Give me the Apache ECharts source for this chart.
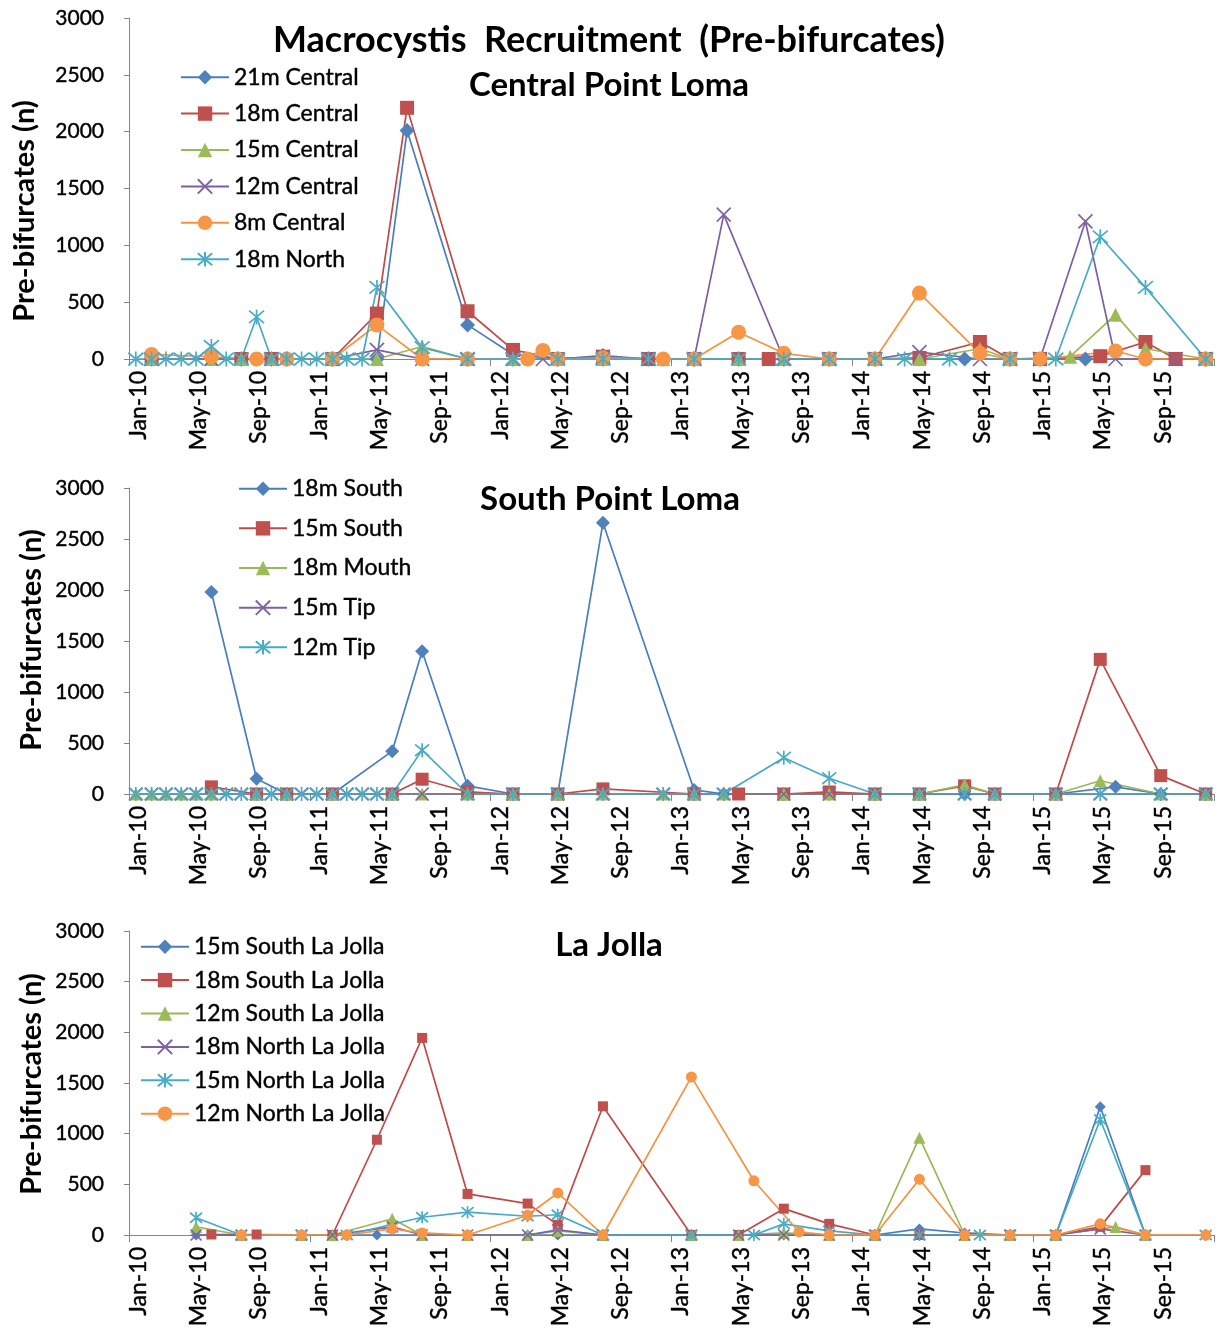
<!DOCTYPE html>
<html><head><meta charset="utf-8">
<script src="https://cdn.jsdelivr.net/npm/echarts@6/dist/echarts.min.js"></script>
<style>html,body{margin:0;padding:0;background:#fff}#c{width:1225px;height:1332px}</style>
</head><body><div id="c"></div>
<script>
// ---------- DATA ----------
const xTickMonths = ['Jan','May','Sep'];
const yTicks = [0,500,1000,1500,2000,2500,3000];

// Panel 1: Central Point Loma
const p1_21mCentral = [['2010-02-15',0],['2010-08-15',0],['2010-10-15',0],['2011-02-15',0],['2011-05-15',0],['2011-07-15',2010],['2011-11-15',300],['2012-02-15',40],['2012-05-15',0],['2012-08-15',30],['2012-11-15',0],['2013-02-15',0],['2013-05-15',0],['2013-08-15',0],['2013-11-15',0],['2014-02-15',0],['2014-05-15',0],['2014-08-15',0],['2014-11-15',0],['2015-01-15',0],['2015-04-15',0],['2015-08-15',0],['2015-12-15',0]];
const p1_18mCentral = [['2010-02-15',0],['2010-08-15',0],['2010-10-15',0],['2011-02-15',0],['2011-05-15',400],['2011-07-15',2210],['2011-11-15',420],['2012-02-15',80],['2012-05-15',0],['2012-08-15',20],['2012-11-15',0],['2013-02-15',0],['2013-05-15',0],['2013-07-15',0],['2013-11-15',0],['2014-02-15',0],['2014-05-15',10],['2014-09-15',150],['2014-11-15',0],['2015-01-15',0],['2015-05-15',25],['2015-08-15',150],['2015-10-15',0],['2015-12-15',0]];
const p1_15mCentral = [['2010-02-15',0],['2010-06-15',0],['2010-08-15',0],['2010-10-15',0],['2011-05-15',0],['2011-08-15',110],['2011-11-15',0],['2012-02-15',0],['2012-05-15',0],['2012-08-15',0],['2012-12-15',0],['2013-02-15',0],['2013-05-15',0],['2013-08-15',0],['2013-11-15',0],['2014-02-15',0],['2014-05-15',0],['2014-09-15',90],['2014-11-15',0],['2015-03-15',20],['2015-06-15',390],['2015-08-15',90],['2015-12-15',0]];
const p1_12mCentral = [['2010-02-15',0],['2010-06-15',0],['2010-10-15',0],['2011-02-15',0],['2011-05-15',80],['2011-08-15',0],['2011-11-15',0],['2012-02-15',0],['2012-04-15',0],['2012-08-15',20],['2012-11-15',0],['2013-02-15',0],['2013-04-15',1270],['2013-08-15',0],['2013-11-15',0],['2014-02-15',0],['2014-05-15',60],['2014-09-15',0],['2014-11-15',0],['2015-01-15',0],['2015-04-15',1210],['2015-06-15',0],['2015-10-15',0],['2015-12-15',0]];
const p1_8mCentral = [['2010-02-15',40],['2010-06-15',20],['2010-09-15',0],['2010-11-15',0],['2011-02-15',0],['2011-05-15',300],['2011-08-15',0],['2011-11-15',0],['2012-03-15',0],['2012-04-15',75],['2012-05-15',0],['2012-08-15',10],['2012-12-15',0],['2013-02-15',0],['2013-05-15',235],['2013-08-15',50],['2013-11-15',0],['2014-02-15',0],['2014-05-15',580],['2014-09-15',50],['2014-11-15',0],['2015-01-15',0],['2015-06-15',70],['2015-08-15',0],['2015-12-15',0]];
const p1_18mNorth = [['2010-01-15',0],['2010-02-15',0],['2010-03-15',0],['2010-04-15',0],['2010-05-15',0],['2010-06-15',110],['2010-07-15',0],['2010-08-15',0],['2010-09-15',370],['2010-10-15',0],['2010-11-15',0],['2010-12-15',0],['2011-01-15',0],['2011-02-15',0],['2011-03-15',0],['2011-04-15',0],['2011-05-15',630],['2011-08-15',100],['2011-11-15',0],['2012-02-15',0],['2012-05-15',0],['2012-08-15',0],['2012-11-15',0],['2013-02-15',0],['2013-05-15',0],['2013-08-15',0],['2013-11-15',0],['2014-02-15',0],['2014-04-15',0],['2014-07-15',0],['2014-11-15',0],['2015-02-15',0],['2015-05-15',1075],['2015-08-15',630],['2015-12-15',0]];

// Panel 2: South Point Loma
const p2_18mSouth = [['2010-06-15',1980],['2010-09-15',150],['2010-11-15',0],['2011-02-15',0],['2011-06-15',420],['2011-08-15',1400],['2011-11-15',80],['2012-02-15',0],['2012-05-15',0],['2012-08-15',2660],['2013-02-15',40],['2013-04-15',0],['2013-08-15',0],['2013-11-15',0],['2014-02-15',0],['2014-05-15',0],['2014-08-15',0],['2014-10-15',0],['2015-02-15',0],['2015-06-15',70],['2015-09-15',0],['2015-12-15',0]];
const p2_15mSouth = [['2010-06-15',70],['2010-09-15',0],['2010-11-15',0],['2011-02-15',0],['2011-06-15',0],['2011-08-15',145],['2011-11-15',20],['2012-02-15',0],['2012-05-15',0],['2012-08-15',50],['2013-02-15',0],['2013-05-15',0],['2013-08-15',0],['2013-11-15',20],['2014-02-15',0],['2014-05-15',0],['2014-08-15',80],['2014-10-15',0],['2015-02-15',0],['2015-05-15',1320],['2015-09-15',180],['2015-12-15',0]];
const p2_18mMouth = [['2010-01-15',0],['2010-02-15',0],['2010-03-15',0],['2010-04-15',0],['2010-05-15',0],['2010-06-15',0],['2010-09-15',0],['2010-11-15',0],['2011-02-15',0],['2011-06-15',0],['2011-08-15',0],['2011-11-15',0],['2012-02-15',0],['2012-05-15',0],['2012-08-15',0],['2012-12-15',0],['2013-02-15',0],['2013-04-15',0],['2013-08-15',0],['2013-11-15',0],['2014-02-15',0],['2014-05-15',0],['2014-08-15',90],['2014-10-15',0],['2015-02-15',0],['2015-05-15',130],['2015-09-15',0],['2015-12-15',0]];
const p2_15mTip = [['2010-01-15',0],['2010-02-15',0],['2010-03-15',0],['2010-04-15',0],['2010-05-15',0],['2010-06-15',0],['2010-07-15',0],['2010-08-15',0],['2010-09-15',0],['2010-10-15',0],['2010-11-15',0],['2010-12-15',0],['2011-01-15',0],['2011-02-15',0],['2011-03-15',0],['2011-04-15',0],['2011-05-15',0],['2011-06-15',0],['2011-08-15',0],['2011-11-15',0],['2012-02-15',0],['2012-05-15',0],['2012-08-15',0],['2012-12-15',0],['2013-02-15',0],['2013-04-15',0],['2013-08-15',0],['2013-11-15',0],['2014-02-15',0],['2014-05-15',0],['2014-08-15',0],['2014-10-15',0],['2015-02-15',0],['2015-05-15',0],['2015-09-15',0],['2015-12-15',0]];
const p2_12mTip = [['2010-01-15',0],['2010-02-15',0],['2010-03-15',0],['2010-04-15',0],['2010-05-15',0],['2010-06-15',0],['2010-07-15',0],['2010-08-15',0],['2010-09-15',0],['2010-10-15',0],['2010-11-15',0],['2010-12-15',0],['2011-01-15',0],['2011-02-15',0],['2011-03-15',0],['2011-04-15',0],['2011-05-15',0],['2011-06-15',0],['2011-08-15',430],['2011-11-15',0],['2012-02-15',0],['2012-05-15',0],['2012-08-15',0],['2012-12-15',0],['2013-02-15',0],['2013-04-15',0],['2013-08-15',355],['2013-11-15',155],['2014-02-15',0],['2014-05-15',0],['2014-08-15',0],['2014-10-15',0],['2015-02-15',0],['2015-05-15',0],['2015-09-15',0],['2015-12-15',0]];

// Panel 3: La Jolla
const p3_15mSouthLJ = [['2010-05-15',0],['2010-08-15',0],['2010-12-15',0],['2011-02-15',0],['2011-05-15',0],['2011-08-15',0],['2011-11-15',0],['2012-03-15',0],['2012-05-15',0],['2012-08-15',0],['2013-02-10',0],['2013-05-15',0],['2013-08-15',0],['2013-11-15',0],['2014-02-15',0],['2014-05-15',60],['2014-08-15',20],['2014-11-15',0],['2015-02-15',0],['2015-05-15',1265],['2015-08-15',0]];
const p3_18mSouthLJ = [['2010-06-15',5],['2010-09-15',5],['2011-02-15',0],['2011-05-15',940],['2011-08-15',1945],['2011-11-15',405],['2012-03-15',310],['2012-05-15',100],['2012-08-15',1270],['2013-02-10',0],['2013-05-15',0],['2013-08-15',260],['2013-11-15',110],['2014-02-15',0],['2014-05-15',0],['2014-11-15',0],['2015-02-15',0],['2015-05-15',80],['2015-08-15',640]];
const p3_12mSouthLJ = [['2010-05-15',80],['2010-08-15',0],['2010-12-15',0],['2011-02-15',0],['2011-06-15',160],['2011-08-15',0],['2011-11-15',0],['2012-03-15',0],['2012-05-15',40],['2012-08-15',0],['2013-02-10',0],['2013-05-15',0],['2013-08-15',20],['2013-11-15',0],['2014-02-15',0],['2014-05-15',960],['2014-08-15',0],['2014-11-15',0],['2015-02-15',0],['2015-06-15',80],['2015-08-15',0]];
const p3_18mNorthLJ = [['2010-05-15',0],['2010-08-15',0],['2010-12-15',0],['2011-02-15',0],['2011-06-15',80],['2011-08-15',0],['2011-11-15',0],['2012-03-15',0],['2012-05-15',50],['2012-08-15',0],['2013-02-10',0],['2013-05-15',0],['2013-08-15',0],['2013-11-15',0],['2014-02-15',0],['2014-05-15',0],['2014-08-15',0],['2014-11-15',0],['2015-02-15',0],['2015-05-15',60],['2015-08-15',0]];
const p3_15mNorthLJ = [['2010-05-15',170],['2010-08-15',0],['2010-12-15',0],['2011-03-15',0],['2011-08-15',175],['2011-11-15',225],['2012-03-15',185],['2012-05-15',200],['2012-08-15',0],['2013-02-10',0],['2013-06-15',0],['2013-08-15',110],['2013-11-15',40],['2014-02-15',0],['2014-05-15',0],['2014-09-15',0],['2014-11-15',0],['2015-02-15',0],['2015-05-15',1140],['2015-08-15',0],['2015-12-15',0]];
const p3_12mNorthLJ = [['2010-08-15',0],['2010-12-15',0],['2011-03-15',0],['2011-06-15',60],['2011-08-15',20],['2011-11-15',0],['2012-03-15',195],['2012-05-15',415],['2012-08-15',0],['2013-02-10',1560],['2013-06-15',535],['2013-09-15',30],['2013-11-15',0],['2014-02-15',0],['2014-05-15',550],['2014-08-15',0],['2014-11-15',0],['2015-02-15',0],['2015-05-15',110],['2015-08-15',0],['2015-12-15',0]];

// ---------- HELPERS ----------
function toM(s){const [y,m,d]=s.split('-').map(Number);const dim=new Date(y,m,0).getDate();return (y-2010)*12+(m-1)+(d-1)/dim;}
const FONT='Lato';
const X_PATH='path://M0,0L10,10M10,0L0,10';
const AST_PATH='path://M0,0L10,10M10,0L0,10M5,-1L5,11';
const C={blue:['#4F81BD','#4A7EBB'],red:['#C0504D','#BE4B48'],green:['#9BBB59','#98B954'],purple:['#8064A2','#7D60A0'],teal:['#4BACC6','#46AAC5'],orange:['#F79646','#F69240']};
const SYM={diamond:'diamond',rect:'rect',triangle:'triangle',x:X_PATH,ast:AST_PATH,circle:'circle'};
function mk(name,arr,gi,sym,col,size){
  const stroke = (sym==='x'||sym==='ast');
  return {type:'line',name,xAxisIndex:gi,yAxisIndex:gi,
    data:arr.map(d=>[toM(d[0]),d[1]]),
    symbol:SYM[sym],symbolSize:size,showSymbol:true,showAllSymbol:true,
    lineStyle:{color:C[col][1],width:1.7},
    itemStyle: stroke?{color:'rgba(0,0,0,0)',borderColor:C[col][0],borderWidth:1.7}:{color:C[col][0],borderWidth:0},
    emphasis:{disabled:true},animation:false,z:2};
}
function xLabel(v){ if(v%4!==0||v>=72) return ''; const y=Math.floor(v/12); return xTickMonths[(v%12)/4]+'-'+(10+y); }
const heavy={textBorderColor:'#000',textBorderWidth:0.4};

const grids=[{left:129,right:11,top:18,height:341},{left:129,right:11,top:488,height:306},{left:129,right:11,top:931,height:304}];
const xAxes=[], yAxes=[];
grids.forEach((g,i)=>{
  xAxes.push({type:'value',gridIndex:i,min:0,max:72,interval:4,position:'bottom',
    axisLine:{show:true,onZero:false,lineStyle:{color:'#868686',width:1}},axisTick:{show:false},splitLine:{show:false},
    axisLabel:Object.assign({rotate:90,formatter:xLabel,fontFamily:FONT,fontSize:23,lineHeight:19,color:'#000',margin:12,verticalAlign:'top',showMaxLabel:false},heavy)});
  yAxes.push({type:'value',gridIndex:i,min:yTicks[0],max:yTicks[yTicks.length-1],interval:500,
    axisLine:{show:true,lineStyle:{color:'#868686',width:1}},axisTick:{show:true,length:5,lineStyle:{color:'#868686'}},
    splitLine:{show:false},axisLabel:Object.assign({formatter:v=>String(v),fontFamily:FONT,fontSize:21,color:'#000',margin:25},heavy)});
});
grids.forEach((g,i)=>{
  xAxes.push({type:'value',gridIndex:i,min:0,max:72,interval:12,position:'bottom',offset:0,
    axisLine:{show:false},axisLabel:{show:false},splitLine:{show:false},
    axisTick:{show:true,length:7,lineStyle:{color:'#868686'}}});
});

const series=[
  mk('21m Central',p1_21mCentral,0,'diamond','blue',15),
  mk('18m Central',p1_18mCentral,0,'rect','red',14),
  mk('15m Central',p1_15mCentral,0,'triangle','green',14),
  mk('12m Central',p1_12mCentral,0,'x','purple',14),
  mk('8m Central',p1_8mCentral,0,'circle','orange',15),
  mk('18m North',p1_18mNorth,0,'ast','teal',15),
  mk('18m South',p2_18mSouth,1,'diamond','blue',14),
  mk('15m South',p2_15mSouth,1,'rect','red',13),
  mk('18m Mouth',p2_18mMouth,1,'triangle','green',13),
  mk('15m Tip',p2_15mTip,1,'x','purple',13),
  mk('12m Tip',p2_12mTip,1,'ast','teal',14),
  mk('15m South La Jolla',p3_15mSouthLJ,2,'diamond','blue',11),
  mk('18m South La Jolla',p3_18mSouthLJ,2,'rect','red',10),
  mk('12m South La Jolla',p3_12mSouthLJ,2,'triangle','green',12),
  mk('18m North La Jolla',p3_18mNorthLJ,2,'x','purple',11),
  mk('15m North La Jolla',p3_15mNorthLJ,2,'ast','teal',12),
  mk('12m North La Jolla',p3_12mNorthLJ,2,'circle','orange',11)
];
function lg(names,left,top,gap){return {orient:'vertical',left,top,padding:0,itemWidth:48,itemHeight:18,itemGap:gap,
  data:names,selectedMode:false,textStyle:Object.assign({fontFamily:FONT,fontSize:23,color:'#000',lineHeight:18},heavy)};}
const legends=[
  lg(['21m Central','18m Central','15m Central','12m Central','8m Central','18m North'],180,65.5,13),
  lg(['18m South','15m South','18m Mouth','15m Tip','12m Tip'],238,477,16.25),
  lg(['15m South La Jolla','18m South La Jolla','12m South La Jolla','18m North La Jolla','15m North La Jolla','12m North La Jolla'],140,935,10)
];
function txt(t,x,y,size,rot){return {type:'text',x,y,rotation:rot||0,style:{text:t,fontFamily:FONT,fontWeight:'bold',fontSize:size,fill:'#000',align:'center',verticalAlign:'middle'},z:10};}
const graphics=[
  txt('Macrocystis  Recruitment  (Pre-bifurcates)',609,40,36),
  txt('Central Point Loma',609,85,33),
  txt('South Point Loma',610,499,33),
  txt('La Jolla',609,945,33),
  txt('Pre-bifurcates (n)',25,211,29,Math.PI/2),
  txt('Pre-bifurcates (n)',32,640,29,Math.PI/2),
  txt('Pre-bifurcates (n)',32,1084,29,Math.PI/2)
];
const chart=echarts.init(document.getElementById('c'),null,{renderer:'canvas'});
chart.setOption({animation:false,backgroundColor:'#fff',grid:grids,xAxis:xAxes,yAxis:yAxes,legend:legends,series,graphic:graphics});
</script></body></html>
